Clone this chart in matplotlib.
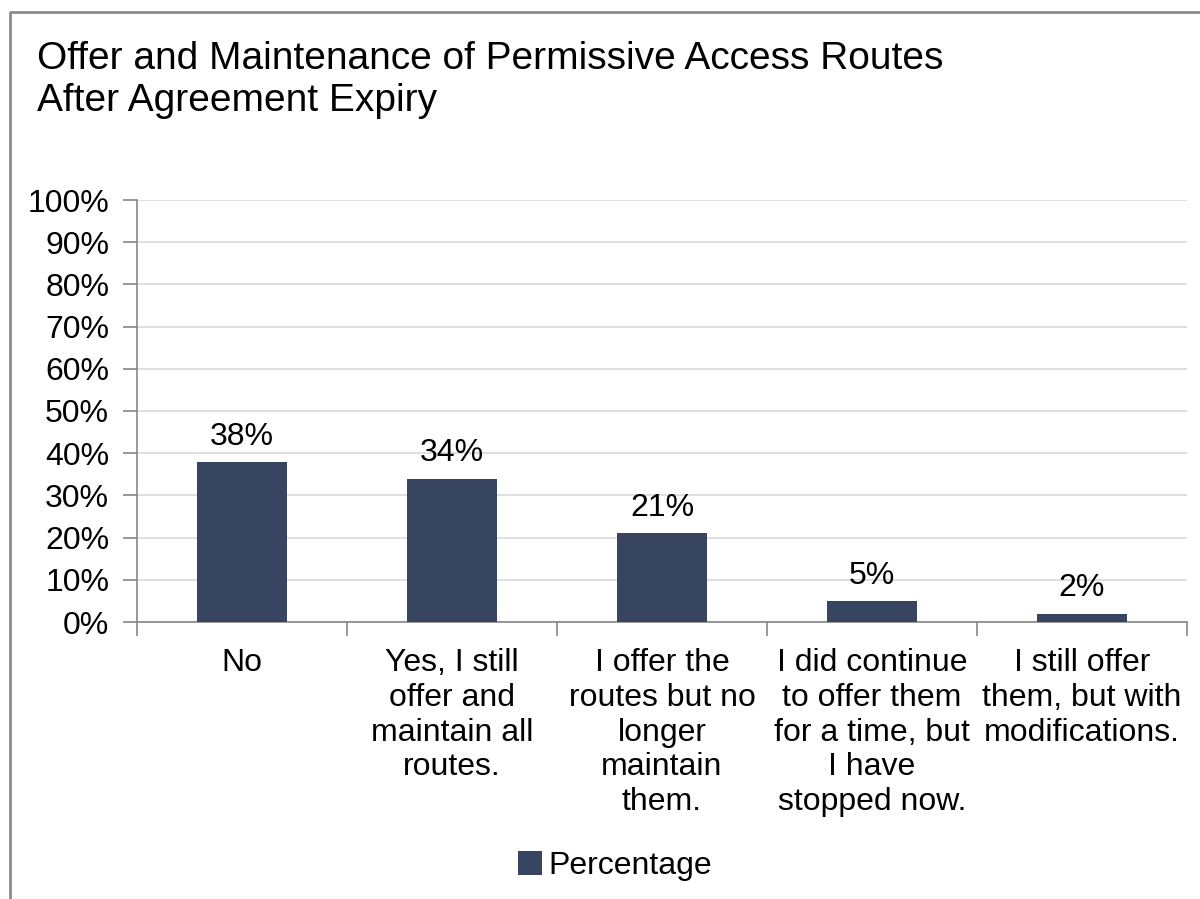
import matplotlib.pyplot as plt
from matplotlib.lines import Line2D
from matplotlib.ticker import FixedLocator

plt.rcParams['font.family'] = ['Liberation Sans', 'DejaVu Sans']

categories = [
    'No',
    'Yes, I still\noffer and\nmaintain all\nroutes.',
    'I offer the\nroutes but no\nlonger\nmaintain\nthem.',
    'I did continue\nto offer them\nfor a time, but\nI have\nstopped now.',
    'I still offer\nthem, but with\nmodifications.',
]
percentages = [38, 34, 21, 5, 2]
y_ticks = [0, 10, 20, 30, 40, 50, 60, 70, 80, 90, 100]

bar_color = '#374560'
W, H = 1200, 899

fig = plt.figure(figsize=(12, 8.99), dpi=100)
ax = fig.add_axes([137 / W, 1 - 622 / H, 1050 / W, 422 / H])

x = list(range(len(categories)))
ax.bar(x, percentages, width=0.43, color=bar_color, zorder=3, label='Percentage')

for xi, v in zip(x, percentages):
    ax.text(xi, v + 2.4, f'{v}%', ha='center', va='bottom', fontsize=23)

ax.set_xlim(-0.5, len(categories) - 0.5)
ax.set_ylim(0, 100)
ax.set_yticks(y_ticks)
ax.set_yticklabels([f'{t}%' for t in y_ticks], fontsize=23)
ax.yaxis.grid(True, color='#d9d9d9', linewidth=1.2, zorder=0)

# category labels under each bar, tick marks on the boundaries
ax.set_xticks(x)
ax.set_xticklabels(categories, fontsize=23, linespacing=1.2, va='top')
ax.tick_params(axis='x', which='major', length=0, pad=19)
ax.xaxis.set_minor_locator(FixedLocator([i - 0.5 for i in range(len(categories) + 1)]))
ax.tick_params(axis='x', which='minor', length=10, color='#868686', width=1.2)
ax.tick_params(axis='y', length=10, color='#868686', width=1.2, pad=10)

for side in ['top', 'right']:
    ax.spines[side].set_visible(False)
for side in ['left', 'bottom']:
    ax.spines[side].set_color('#868686')
    ax.spines[side].set_linewidth(1.2)

fig.text(37 / W, 1 - 41 / H, 'Offer and Maintenance of Permissive Access Routes\nAfter Agreement Expiry',
         ha='left', va='top', fontsize=28, linespacing=1.22)

fig.legend(loc='center', bbox_to_anchor=(615 / W, 1 - 866 / H), frameon=False, fontsize=23,
           handlelength=0.75, handleheight=0.75, handletextpad=0.2)

# outer chart frame
fig.add_artist(Line2D([10 / W, 10 / W, 1.0], [0.0, 1 - 12 / H, 1 - 12 / H],
                      transform=fig.transFigure, color='#8c8c8c', linewidth=2))

fig.savefig('out.png', dpi=100)
